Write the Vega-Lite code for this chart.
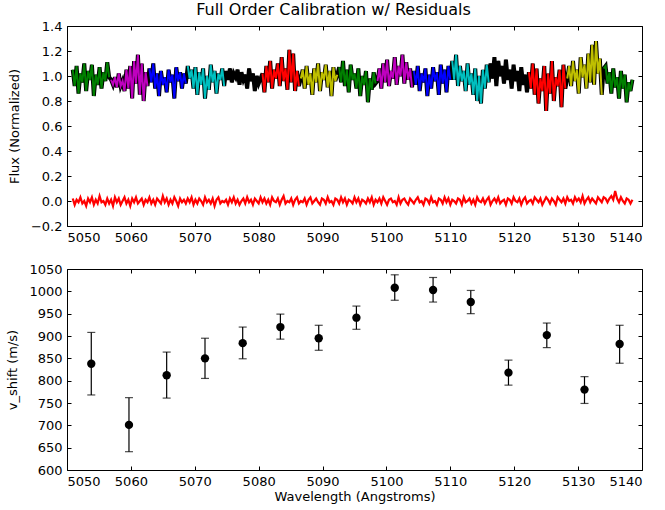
{
"$schema": "https://vega.github.io/schema/vega-lite/v6.json",
"padding": {"left": 6, "top": 1, "right": 20, "bottom": 2},
"spacing": 17,
"config": {
  "font": "DejaVu Sans",
  "view": {"stroke": "#000", "strokeWidth": 1},
  "axis": {"grid": false, "domain": false, "tickColor": "#000", "tickSize": -4, "labelFontSize": 13, "labelColor": "#000", "titleFontSize": 13, "titleFontWeight": "normal", "titleColor": "#000", "labelPadding": 9, "titlePadding": 9},
  "title": {"fontSize": 16, "fontWeight": "normal", "color": "#000"}
},
"datasets": {
"spec": [
{"x":5050.9,"f":1.05,"r":0.02,"s":"g1"},{"x":5051.2,"f":0.92,"r":-0.03,"s":"g1"},{"x":5051.5,"f":1.08,"r":0.01,"s":"g1"},{"x":5051.8,"f":0.86,"r":-0.01,"s":"g1"},{"x":5052.1,"f":1.02,"r":0.03,"s":"g1"},{"x":5052.4,"f":0.95,"r":-0.02,"s":"g1"},{"x":5052.7,"f":1.10,"r":0.00,"s":"g1"},{"x":5053.0,"f":0.88,"r":-0.04,"s":"g1"},{"x":5053.3,"f":1.04,"r":0.02,"s":"g1"},{"x":5053.6,"f":0.97,"r":-0.01,"s":"g1"},{"x":5053.9,"f":1.09,"r":0.03,"s":"g1"},{"x":5054.2,"f":0.84,"r":-0.03,"s":"g1"},{"x":5054.5,"f":1.01,"r":0.01,"s":"g1"},{"x":5054.8,"f":0.93,"r":-0.02,"s":"g1"},{"x":5055.1,"f":1.07,"r":0.04,"s":"g1"},{"x":5055.4,"f":0.90,"r":-0.01,"s":"g1"},{"x":5055.7,"f":1.03,"r":0.00,"s":"g1"},{"x":5056.0,"f":0.96,"r":-0.03,"s":"g1"},{"x":5056.3,"f":1.11,"r":0.02,"s":"g1"},{"x":5056.6,"f":0.99,"r":-0.02,"s":"g1"},
{"x":5056.9,"f":0.97,"r":0.01,"s":"m1"},{"x":5057.2,"f":0.93,"r":-0.04,"s":"m1"},{"x":5057.5,"f":0.99,"r":0.03,"s":"m1"},{"x":5057.8,"f":0.91,"r":-0.01,"s":"m1"},{"x":5058.1,"f":1.02,"r":0.02,"s":"m1"},{"x":5058.4,"f":0.92,"r":-0.03,"s":"m1"},{"x":5058.7,"f":0.96,"r":0.00,"s":"m1"},{"x":5059.0,"f":0.88,"r":0.03,"s":"m1"},{"x":5059.3,"f":1.05,"r":-0.02,"s":"m1"},{"x":5059.6,"f":0.90,"r":0.01,"s":"m1"},{"x":5059.9,"f":1.08,"r":-0.04,"s":"m1"},{"x":5060.2,"f":0.82,"r":0.02,"s":"m1"},{"x":5060.5,"f":1.12,"r":-0.01,"s":"m1"},{"x":5060.8,"f":0.94,"r":0.03,"s":"m1"},{"x":5061.1,"f":1.17,"r":-0.02,"s":"m1"},{"x":5061.4,"f":0.85,"r":0.00,"s":"m1"},{"x":5061.7,"f":1.10,"r":0.02,"s":"m1"},{"x":5062.0,"f":0.80,"r":-0.03,"s":"m1"},{"x":5062.3,"f":1.03,"r":0.01,"s":"m1"},{"x":5062.6,"f":0.92,"r":-0.01,"s":"m1"},
{"x":5062.9,"f":1.06,"r":0.03,"s":"b1"},{"x":5063.2,"f":0.95,"r":-0.02,"s":"b1"},{"x":5063.5,"f":1.10,"r":0.01,"s":"b1"},{"x":5063.8,"f":0.90,"r":-0.03,"s":"b1"},{"x":5064.1,"f":1.02,"r":0.02,"s":"b1"},{"x":5064.4,"f":0.84,"r":0.00,"s":"b1"},{"x":5064.7,"f":1.04,"r":-0.02,"s":"b1"},{"x":5065.0,"f":0.93,"r":0.04,"s":"b1"},{"x":5065.3,"f":0.99,"r":-0.01,"s":"b1"},{"x":5065.6,"f":0.87,"r":0.02,"s":"b1"},{"x":5065.9,"f":1.05,"r":-0.03,"s":"b1"},{"x":5066.2,"f":0.95,"r":0.01,"s":"b1"},{"x":5066.5,"f":1.01,"r":-0.02,"s":"b1"},{"x":5066.8,"f":0.82,"r":0.03,"s":"b1"},{"x":5067.1,"f":1.07,"r":0.00,"s":"b1"},{"x":5067.4,"f":0.96,"r":-0.04,"s":"b1"},{"x":5067.7,"f":1.03,"r":0.02,"s":"b1"},{"x":5068.0,"f":0.90,"r":-0.01,"s":"b1"},{"x":5068.3,"f":1.02,"r":0.01,"s":"b1"},{"x":5068.6,"f":0.94,"r":-0.02,"s":"b1"},
{"x":5068.9,"f":1.08,"r":0.02,"s":"c1"},{"x":5069.2,"f":0.98,"r":-0.01,"s":"c1"},{"x":5069.5,"f":1.05,"r":0.03,"s":"c1"},{"x":5069.8,"f":0.90,"r":-0.03,"s":"c1"},{"x":5070.1,"f":1.07,"r":0.01,"s":"c1"},{"x":5070.4,"f":0.85,"r":-0.02,"s":"c1"},{"x":5070.7,"f":1.03,"r":0.02,"s":"c1"},{"x":5071.0,"f":0.93,"r":0.00,"s":"c1"},{"x":5071.3,"f":1.06,"r":-0.03,"s":"c1"},{"x":5071.6,"f":0.82,"r":0.03,"s":"c1"},{"x":5071.9,"f":1.00,"r":-0.01,"s":"c1"},{"x":5072.2,"f":0.89,"r":0.01,"s":"c1"},{"x":5072.5,"f":1.09,"r":-0.02,"s":"c1"},{"x":5072.8,"f":0.95,"r":0.02,"s":"c1"},{"x":5073.1,"f":1.04,"r":-0.04,"s":"c1"},{"x":5073.4,"f":0.86,"r":0.01,"s":"c1"},{"x":5073.7,"f":1.02,"r":0.03,"s":"c1"},{"x":5074.0,"f":0.97,"r":-0.02,"s":"c1"},{"x":5074.3,"f":1.06,"r":0.00,"s":"c1"},{"x":5074.6,"f":0.92,"r":-0.01,"s":"c1"},
{"x":5074.9,"f":1.04,"r":0.01,"s":"k1"},{"x":5075.2,"f":0.97,"r":-0.03,"s":"k1"},{"x":5075.5,"f":1.06,"r":0.02,"s":"k1"},{"x":5075.8,"f":0.95,"r":-0.01,"s":"k1"},{"x":5076.1,"f":1.02,"r":0.03,"s":"k1"},{"x":5076.4,"f":0.99,"r":-0.02,"s":"k1"},{"x":5076.7,"f":1.05,"r":0.01,"s":"k1"},{"x":5077.0,"f":0.93,"r":-0.03,"s":"k1"},{"x":5077.3,"f":1.03,"r":0.00,"s":"k1"},{"x":5077.6,"f":0.97,"r":0.02,"s":"k1"},{"x":5077.9,"f":1.01,"r":-0.02,"s":"k1"},{"x":5078.2,"f":0.90,"r":0.03,"s":"k1"},{"x":5078.5,"f":1.06,"r":-0.01,"s":"k1"},{"x":5078.8,"f":0.96,"r":0.01,"s":"k1"},{"x":5079.1,"f":1.02,"r":-0.03,"s":"k1"},{"x":5079.4,"f":0.88,"r":0.02,"s":"k1"},{"x":5079.7,"f":1.00,"r":0.00,"s":"k1"},{"x":5080.0,"f":0.94,"r":-0.02,"s":"k1"},{"x":5080.3,"f":0.98,"r":0.03,"s":"k1"},{"x":5080.6,"f":1.02,"r":-0.01,"s":"r1"},
{"x":5080.9,"f":0.87,"r":0.02,"s":"r1"},{"x":5081.2,"f":1.08,"r":-0.02,"s":"r1"},{"x":5081.5,"f":0.95,"r":0.01,"s":"r1"},{"x":5081.8,"f":1.12,"r":-0.03,"s":"r1"},{"x":5082.1,"f":0.90,"r":0.03,"s":"r1"},{"x":5082.4,"f":1.05,"r":0.00,"s":"r1"},{"x":5082.7,"f":0.98,"r":-0.01,"s":"r1"},{"x":5083.0,"f":1.10,"r":0.02,"s":"r1"},{"x":5083.3,"f":0.92,"r":-0.03,"s":"r1"},{"x":5083.6,"f":1.15,"r":0.01,"s":"r1"},{"x":5083.9,"f":0.96,"r":0.04,"s":"r1"},{"x":5084.2,"f":1.06,"r":-0.02,"s":"r1"},{"x":5084.5,"f":0.89,"r":0.00,"s":"r1"},{"x":5084.8,"f":1.21,"r":-0.01,"s":"r1"},{"x":5085.1,"f":0.95,"r":0.02,"s":"r1"},{"x":5085.4,"f":1.18,"r":-0.03,"s":"r1"},{"x":5085.7,"f":0.88,"r":0.01,"s":"r1"},{"x":5086.0,"f":1.04,"r":0.03,"s":"r1"},{"x":5086.3,"f":0.92,"r":-0.02,"s":"r1"},{"x":5086.6,"f":0.98,"r":0.00,"s":"y1"},
{"x":5086.9,"f":1.05,"r":-0.01,"s":"y1"},{"x":5087.2,"f":0.90,"r":0.02,"s":"y1"},{"x":5087.5,"f":1.08,"r":-0.03,"s":"y1"},{"x":5087.8,"f":0.93,"r":0.01,"s":"y1"},{"x":5088.1,"f":1.02,"r":0.03,"s":"y1"},{"x":5088.4,"f":0.85,"r":-0.02,"s":"y1"},{"x":5088.7,"f":1.06,"r":0.00,"s":"y1"},{"x":5089.0,"f":0.95,"r":0.02,"s":"y1"},{"x":5089.3,"f":1.10,"r":-0.01,"s":"y1"},{"x":5089.6,"f":0.88,"r":-0.03,"s":"y1"},{"x":5089.9,"f":1.03,"r":0.02,"s":"y1"},{"x":5090.2,"f":0.97,"r":0.01,"s":"y1"},{"x":5090.5,"f":1.09,"r":-0.02,"s":"y1"},{"x":5090.8,"f":0.91,"r":0.03,"s":"y1"},{"x":5091.1,"f":1.04,"r":-0.01,"s":"y1"},{"x":5091.4,"f":0.84,"r":0.00,"s":"y1"},{"x":5091.7,"f":1.07,"r":-0.03,"s":"y1"},{"x":5092.0,"f":0.96,"r":0.02,"s":"y1"},{"x":5092.3,"f":1.01,"r":0.01,"s":"y1"},{"x":5092.6,"f":1.07,"r":-0.02,"s":"g2"},
{"x":5092.9,"f":0.95,"r":0.03,"s":"g2"},{"x":5093.2,"f":1.12,"r":-0.01,"s":"g2"},{"x":5093.5,"f":0.92,"r":0.02,"s":"g2"},{"x":5093.8,"f":1.05,"r":-0.03,"s":"g2"},{"x":5094.1,"f":0.87,"r":0.01,"s":"g2"},{"x":5094.4,"f":1.09,"r":0.00,"s":"g2"},{"x":5094.7,"f":0.97,"r":-0.02,"s":"g2"},{"x":5095.0,"f":1.02,"r":0.03,"s":"g2"},{"x":5095.3,"f":0.90,"r":-0.01,"s":"g2"},{"x":5095.6,"f":1.06,"r":0.02,"s":"g2"},{"x":5095.9,"f":0.84,"r":-0.03,"s":"g2"},{"x":5096.2,"f":1.00,"r":0.01,"s":"g2"},{"x":5096.5,"f":0.93,"r":0.00,"s":"g2"},{"x":5096.8,"f":1.04,"r":-0.02,"s":"g2"},{"x":5097.1,"f":0.79,"r":0.02,"s":"g2"},{"x":5097.4,"f":0.98,"r":-0.01,"s":"g2"},{"x":5097.7,"f":0.89,"r":0.03,"s":"g2"},{"x":5098.0,"f":1.03,"r":-0.03,"s":"g2"},{"x":5098.3,"f":0.94,"r":0.01,"s":"g2"},{"x":5098.6,"f":0.96,"r":-0.01,"s":"m2"},
{"x":5098.9,"f":1.06,"r":0.02,"s":"m2"},{"x":5099.2,"f":0.90,"r":-0.02,"s":"m2"},{"x":5099.5,"f":1.10,"r":0.03,"s":"m2"},{"x":5099.8,"f":0.95,"r":0.00,"s":"m2"},{"x":5100.1,"f":1.13,"r":-0.03,"s":"m2"},{"x":5100.4,"f":0.92,"r":0.01,"s":"m2"},{"x":5100.7,"f":1.04,"r":0.02,"s":"m2"},{"x":5101.0,"f":0.98,"r":-0.01,"s":"m2"},{"x":5101.3,"f":1.15,"r":0.00,"s":"m2"},{"x":5101.6,"f":0.93,"r":-0.03,"s":"m2"},{"x":5101.9,"f":1.08,"r":0.03,"s":"m2"},{"x":5102.2,"f":1.00,"r":-0.02,"s":"m2"},{"x":5102.5,"f":1.17,"r":0.01,"s":"m2"},{"x":5102.8,"f":0.94,"r":0.02,"s":"m2"},{"x":5103.1,"f":1.11,"r":-0.01,"s":"m2"},{"x":5103.4,"f":0.97,"r":-0.03,"s":"m2"},{"x":5103.7,"f":1.06,"r":0.02,"s":"m2"},{"x":5104.0,"f":0.91,"r":0.00,"s":"m2"},{"x":5104.3,"f":1.04,"r":-0.02,"s":"b2"},{"x":5104.6,"f":0.93,"r":0.01,"s":"b2"},
{"x":5104.9,"f":1.08,"r":0.03,"s":"b2"},{"x":5105.2,"f":0.88,"r":-0.01,"s":"b2"},{"x":5105.5,"f":1.02,"r":0.00,"s":"b2"},{"x":5105.8,"f":0.95,"r":-0.03,"s":"b2"},{"x":5106.1,"f":1.06,"r":0.02,"s":"b2"},{"x":5106.4,"f":0.84,"r":0.01,"s":"b2"},{"x":5106.7,"f":1.01,"r":-0.02,"s":"b2"},{"x":5107.0,"f":0.90,"r":0.03,"s":"b2"},{"x":5107.3,"f":1.07,"r":-0.01,"s":"b2"},{"x":5107.6,"f":0.96,"r":0.00,"s":"b2"},{"x":5107.9,"f":1.03,"r":-0.03,"s":"b2"},{"x":5108.2,"f":0.85,"r":0.02,"s":"b2"},{"x":5108.5,"f":1.09,"r":0.01,"s":"b2"},{"x":5108.8,"f":0.94,"r":-0.02,"s":"b2"},{"x":5109.1,"f":1.05,"r":0.03,"s":"b2"},{"x":5109.4,"f":0.87,"r":-0.01,"s":"b2"},{"x":5109.7,"f":1.08,"r":0.02,"s":"b2"},{"x":5110.0,"f":0.97,"r":-0.03,"s":"b2"},{"x":5110.3,"f":1.12,"r":0.01,"s":"c2"},{"x":5110.6,"f":0.97,"r":0.00,"s":"c2"},
{"x":5110.9,"f":1.17,"r":-0.02,"s":"c2"},{"x":5111.2,"f":0.92,"r":0.02,"s":"c2"},{"x":5111.5,"f":1.08,"r":0.01,"s":"c2"},{"x":5111.8,"f":0.96,"r":-0.03,"s":"c2"},{"x":5112.1,"f":1.04,"r":0.03,"s":"c2"},{"x":5112.4,"f":0.88,"r":-0.01,"s":"c2"},{"x":5112.7,"f":1.10,"r":0.00,"s":"c2"},{"x":5113.0,"f":0.93,"r":0.02,"s":"c2"},{"x":5113.3,"f":1.02,"r":-0.02,"s":"c2"},{"x":5113.6,"f":0.85,"r":0.01,"s":"c2"},{"x":5113.9,"f":1.06,"r":-0.03,"s":"c2"},{"x":5114.2,"f":0.80,"r":0.03,"s":"c2"},{"x":5114.5,"f":1.00,"r":0.00,"s":"c2"},{"x":5114.8,"f":0.78,"r":-0.01,"s":"c2"},{"x":5115.1,"f":1.05,"r":0.02,"s":"c2"},{"x":5115.4,"f":0.90,"r":-0.02,"s":"c2"},{"x":5115.7,"f":1.09,"r":0.01,"s":"c2"},{"x":5116.0,"f":0.95,"r":0.03,"s":"c2"},{"x":5116.3,"f":1.10,"r":-0.03,"s":"k2"},{"x":5116.6,"f":0.98,"r":0.00,"s":"k2"},
{"x":5116.9,"f":1.15,"r":0.02,"s":"k2"},{"x":5117.2,"f":0.92,"r":-0.01,"s":"k2"},{"x":5117.5,"f":1.12,"r":0.03,"s":"k2"},{"x":5117.8,"f":1.00,"r":-0.02,"s":"k2"},{"x":5118.1,"f":1.08,"r":0.00,"s":"k2"},{"x":5118.4,"f":0.94,"r":0.01,"s":"k2"},{"x":5118.7,"f":1.13,"r":-0.03,"s":"k2"},{"x":5119.0,"f":0.97,"r":0.02,"s":"k2"},{"x":5119.3,"f":1.05,"r":0.01,"s":"k2"},{"x":5119.6,"f":0.90,"r":-0.02,"s":"k2"},{"x":5119.9,"f":1.09,"r":0.03,"s":"k2"},{"x":5120.2,"f":0.96,"r":0.00,"s":"k2"},{"x":5120.5,"f":1.04,"r":-0.01,"s":"k2"},{"x":5120.8,"f":0.88,"r":0.02,"s":"k2"},{"x":5121.1,"f":1.07,"r":-0.03,"s":"k2"},{"x":5121.4,"f":0.93,"r":0.01,"s":"k2"},{"x":5121.7,"f":1.01,"r":0.03,"s":"k2"},{"x":5122.0,"f":0.87,"r":-0.02,"s":"k2"},{"x":5122.3,"f":1.03,"r":0.00,"s":"r2"},{"x":5122.6,"f":0.90,"r":0.01,"s":"r2"},
{"x":5122.9,"f":1.10,"r":-0.02,"s":"r2"},{"x":5123.2,"f":0.85,"r":0.03,"s":"r2"},{"x":5123.5,"f":1.06,"r":0.01,"s":"r2"},{"x":5123.8,"f":0.78,"r":-0.01,"s":"r2"},{"x":5124.1,"f":0.98,"r":0.02,"s":"r2"},{"x":5124.4,"f":0.88,"r":-0.03,"s":"r2"},{"x":5124.7,"f":1.08,"r":0.00,"s":"r2"},{"x":5125.0,"f":0.72,"r":0.03,"s":"r2"},{"x":5125.3,"f":1.02,"r":0.01,"s":"r2"},{"x":5125.6,"f":0.86,"r":-0.02,"s":"r2"},{"x":5125.9,"f":1.12,"r":0.02,"s":"r2"},{"x":5126.2,"f":0.80,"r":0.00,"s":"r2"},{"x":5126.5,"f":0.99,"r":-0.03,"s":"r2"},{"x":5126.8,"f":0.92,"r":0.03,"s":"r2"},{"x":5127.1,"f":1.05,"r":0.01,"s":"r2"},{"x":5127.4,"f":0.75,"r":-0.01,"s":"r2"},{"x":5127.7,"f":1.09,"r":0.02,"s":"r2"},{"x":5128.0,"f":0.90,"r":-0.02,"s":"r2"},{"x":5128.3,"f":0.98,"r":0.03,"s":"y2"},{"x":5128.6,"f":1.08,"r":0.00,"s":"y2"},
{"x":5128.9,"f":0.92,"r":0.01,"s":"y2"},{"x":5129.2,"f":1.12,"r":-0.02,"s":"y2"},{"x":5129.5,"f":0.96,"r":0.03,"s":"y2"},{"x":5129.8,"f":1.05,"r":0.00,"s":"y2"},{"x":5130.1,"f":0.86,"r":0.02,"s":"y2"},{"x":5130.4,"f":1.15,"r":-0.01,"s":"y2"},{"x":5130.7,"f":0.99,"r":0.04,"s":"y2"},{"x":5131.0,"f":1.09,"r":-0.02,"s":"y2"},{"x":5131.3,"f":0.90,"r":0.01,"s":"y2"},{"x":5131.6,"f":1.18,"r":0.03,"s":"y2"},{"x":5131.9,"f":0.95,"r":-0.01,"s":"y2"},{"x":5132.2,"f":1.25,"r":0.02,"s":"y2"},{"x":5132.5,"f":0.93,"r":0.00,"s":"y2"},{"x":5132.8,"f":1.28,"r":-0.02,"s":"y2"},{"x":5133.1,"f":1.02,"r":0.03,"s":"y2"},{"x":5133.4,"f":1.14,"r":0.01,"s":"y2"},{"x":5133.7,"f":0.85,"r":-0.01,"s":"y2"},{"x":5134.0,"f":1.06,"r":0.03,"s":"g3"},{"x":5134.3,"f":1.08,"r":0.02,"s":"g3"},{"x":5134.6,"f":0.94,"r":-0.01,"s":"g3"},
{"x":5134.9,"f":1.03,"r":0.02,"s":"g3"},{"x":5135.2,"f":0.86,"r":0.04,"s":"g3"},{"x":5135.5,"f":1.06,"r":0.01,"s":"g3"},{"x":5135.8,"f":0.91,"r":0.08,"s":"g3"},{"x":5136.1,"f":0.99,"r":0.02,"s":"g3"},{"x":5136.4,"f":0.82,"r":-0.01,"s":"g3"},{"x":5136.7,"f":1.04,"r":0.03,"s":"g3"},{"x":5137.0,"f":0.90,"r":0.00,"s":"g3"},{"x":5137.3,"f":1.01,"r":-0.02,"s":"g3"},{"x":5137.6,"f":0.79,"r":0.02,"s":"g3"},{"x":5137.9,"f":0.95,"r":0.01,"s":"g3"},{"x":5138.2,"f":0.88,"r":-0.02,"s":"g3"},{"x":5138.5,"f":0.97,"r":0.01,"s":"g3"}
],
"pts": [
{"w":5053.8,"v":838,"lo":768,"hi":908},
{"w":5059.7,"v":701,"lo":641,"hi":762},
{"w":5065.6,"v":812,"lo":761,"hi":864},
{"w":5071.6,"v":850,"lo":805,"hi":895},
{"w":5077.5,"v":884,"lo":849,"hi":920},
{"w":5083.4,"v":920,"lo":893,"hi":949},
{"w":5089.4,"v":895,"lo":868,"hi":924},
{"w":5095.3,"v":941,"lo":915,"hi":967},
{"w":5101.3,"v":1008,"lo":980,"hi":1037},
{"w":5107.3,"v":1003,"lo":976,"hi":1031},
{"w":5113.2,"v":976,"lo":950,"hi":1002},
{"w":5119.1,"v":818,"lo":790,"hi":846},
{"w":5125.1,"v":902,"lo":874,"hi":929},
{"w":5131.0,"v":780,"lo":749,"hi":809},
{"w":5136.5,"v":882,"lo":839,"hi":924}
]
},
"vconcat": [
{
  "width": 575, "height": 200,
  "title": {"text": "Full Order Calibration w/ Residuals", "offset": 2, "dx": -21},
  "data": {"name": "spec"},
  "layer": [
    {"mark": {"type": "line", "color": "#000", "strokeWidth": 4},
     "encoding": {
       "x": {"field": "x", "type": "quantitative", "scale": {"domain": [5050, 5140], "nice": false, "zero": false},
             "axis": {"orient": "bottom", "title": null, "format": "d", "values": [5050,5060,5070,5080,5090,5100,5110,5120,5130,5140]}},
       "y": {"field": "f", "type": "quantitative", "scale": {"domain": [-0.2, 1.4], "nice": false, "zero": false},
             "axis": {"orient": "left", "title": "Flux (Normalized)", "format": ".1f", "values": [-0.2,0,0.2,0.4,0.6,0.8,1.0,1.2,1.4]}}
     }},
    {"mark": {"type": "line", "strokeWidth": 2},
     "encoding": {
       "x": {"field": "x", "type": "quantitative", "scale": {"domain": [5050, 5140], "nice": false, "zero": false},
             "axis": {"orient": "top", "title": null, "labels": false, "values": [5050,5060,5070,5080,5090,5100,5110,5120,5130,5140]}},
       "y": {"field": "f", "type": "quantitative", "scale": {"domain": [-0.2, 1.4], "nice": false, "zero": false},
             "axis": {"orient": "right", "title": null, "labels": false, "values": [-0.2,0,0.2,0.4,0.6,0.8,1.0,1.2,1.4]}},
       "color": {"field": "s", "type": "nominal", "legend": null,
                 "scale": {"domain": ["g1","m1","b1","c1","k1","r1","y1","g2","m2","b2","c2","k2","r2","y2","g3"],
                           "range": ["#008000","#bf00bf","#0000ff","#00bfbf","#000000","#ff0000","#bfbf00","#008000","#bf00bf","#0000ff","#00bfbf","#000000","#ff0000","#bfbf00","#008000"]}}
     }},
    {"mark": {"type": "line", "color": "#ff0000", "strokeWidth": 2.2},
     "encoding": {
       "x": {"field": "x", "type": "quantitative", "scale": {"domain": [5050, 5140], "nice": false, "zero": false}, "axis": null},
       "y": {"field": "r", "type": "quantitative", "scale": {"domain": [-0.2, 1.4], "nice": false, "zero": false}, "axis": null}
     }}
  ],
  "resolve": {"axis": {"x": "independent", "y": "independent"}}
},
{
  "width": 575, "height": 201,
  "data": {"name": "pts"},
  "layer": [
    {"mark": {"type": "rule", "color": "#000", "strokeWidth": 1.2},
     "encoding": {
       "x": {"field": "w", "type": "quantitative", "scale": {"domain": [5050, 5140], "nice": false, "zero": false},
             "axis": {"orient": "bottom", "title": "Wavelength (Angstroms)", "titlePadding": 2, "format": "d", "values": [5050,5060,5070,5080,5090,5100,5110,5120,5130,5140]}},
       "y": {"field": "lo", "type": "quantitative", "scale": {"domain": [600, 1050], "nice": false, "zero": false},
             "axis": {"orient": "left", "title": "v_shift (m/s)", "format": "d", "values": [600,650,700,750,800,850,900,950,1000,1050]}},
       "y2": {"field": "hi"}
     }},
    {"mark": {"type": "tick", "orient": "horizontal", "color": "#000", "size": 8, "thickness": 1.2},
     "encoding": {
       "x": {"field": "w", "type": "quantitative", "scale": {"domain": [5050, 5140], "nice": false, "zero": false},
             "axis": {"orient": "top", "title": null, "labels": false, "values": [5050,5060,5070,5080,5090,5100,5110,5120,5130,5140]}},
       "y": {"field": "lo", "type": "quantitative", "scale": {"domain": [600, 1050], "nice": false, "zero": false},
             "axis": {"orient": "right", "title": null, "labels": false, "values": [600,650,700,750,800,850,900,950,1000,1050]}}
     }},
    {"mark": {"type": "tick", "orient": "horizontal", "color": "#000", "size": 8, "thickness": 1.2},
     "encoding": {
       "x": {"field": "w", "type": "quantitative", "scale": {"domain": [5050, 5140], "nice": false, "zero": false}, "axis": null},
       "y": {"field": "hi", "type": "quantitative", "scale": {"domain": [600, 1050], "nice": false, "zero": false}, "axis": null}
     }},
    {"mark": {"type": "circle", "color": "#000", "size": 70, "opacity": 1},
     "encoding": {
       "x": {"field": "w", "type": "quantitative", "scale": {"domain": [5050, 5140], "nice": false, "zero": false}, "axis": null},
       "y": {"field": "v", "type": "quantitative", "scale": {"domain": [600, 1050], "nice": false, "zero": false}, "axis": null}
     }}
  ],
  "resolve": {"axis": {"x": "independent", "y": "independent"}}
}
]
}
